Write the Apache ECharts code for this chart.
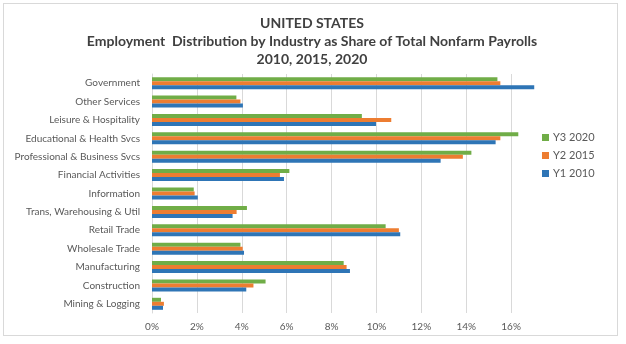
<!DOCTYPE html>
<html>
<head>
<meta charset="utf-8">
<script src="https://cdn.jsdelivr.net/npm/echarts@6/dist/echarts.min.js"></script>
<style>
  html, body { margin: 0; padding: 0; background: #ffffff; }
  #frame { position: absolute; left: 3px; top: 3px; width: 615px; height: 333px; border: 1.5px solid #d9d9d9; box-sizing: border-box; }
  #chart { position: absolute; left: 0; top: 0; width: 626px; height: 344px; }
</style>
</head>
<body>
<div id="frame"></div>
<div id="chart"></div>
<script>
// Categories, top to bottom as in the reference
const categories = [
  'Government',
  'Other Services',
  'Leisure & Hospitality',
  'Educational & Health Svcs',
  'Professional & Business Svcs',
  'Financial Activities',
  'Information',
  'Trans, Warehousing & Util',
  'Retail Trade',
  'Wholesale Trade',
  'Manufacturing',
  'Construction',
  'Mining & Logging'
];
// Share of total nonfarm payrolls (%)
const y3_2020 = [15.39, 3.76, 9.35, 16.32, 14.23, 6.12, 1.86, 4.23, 10.41, 3.94, 8.54, 5.06, 0.40];
const y2_2015 = [15.52, 3.94, 10.66, 15.52, 13.85, 5.70, 1.90, 3.77, 11.00, 4.04, 8.67, 4.52, 0.53];
const y1_2010 = [17.03, 4.05, 9.98, 15.31, 12.86, 5.88, 2.04, 3.59, 11.06, 4.10, 8.82, 4.20, 0.49];
const seriesNames = ['Y3 2020', 'Y2 2015', 'Y1 2010'];
const xTicks = [0, 2, 4, 6, 8, 10, 12, 14, 16];

const colors = ['#70ad47', '#ed7d31', '#2e75b6'];
const font = 'Lato, "Open Sans", sans-serif';
const chart = echarts.init(document.getElementById('chart'), null, { renderer: 'canvas' });

const data = [y3_2020, y2_2015, y1_2010];
const gridColors = xTicks.map(() => '#d9d9d9').concat(['rgba(0,0,0,0)']);

chart.setOption({
  animation: false,
  color: colors,
  title: {
    text: 'UNITED STATES\nEmployment  Distribution by Industry as Share of Total Nonfarm Payrolls\n2010, 2015, 2020',
    left: 307,
    textAlign: 'center',
    top: 9,
    textStyle: { fontFamily: font, fontSize: 14, fontWeight: 'bold', color: '#404040', lineHeight: 18 }
  },
  legend: {
    orient: 'vertical',
    left: 537,
    top: 127,
    itemWidth: 7,
    itemHeight: 7,
    itemGap: 7,
    icon: 'rect',
    data: seriesNames,
    textStyle: { fontFamily: font, fontSize: 11, color: '#595959', padding: [0, 0, 0, -1] }
  },
  grid: { left: 152, right: 70, top: 74, bottom: 31, containLabel: false },
  xAxis: {
    type: 'value',
    min: 0,
    max: 18,
    interval: 2,
    axisLine: { show: false },
    axisTick: { show: false },
    axisLabel: {
      fontFamily: font, fontSize: 10, color: '#595959', margin: 9,
      formatter: v => (xTicks.indexOf(v) >= 0 ? v + '%' : '')
    },
    splitLine: { show: true, lineStyle: { color: gridColors, width: 1 } }
  },
  yAxis: {
    type: 'category',
    inverse: true,
    data: categories,
    axisLine: { show: true, lineStyle: { color: '#d9d9d9' } },
    axisTick: { show: false },
    axisLabel: { fontFamily: font, fontSize: 10, color: '#595959', margin: 12 }
  },
  series: seriesNames.map((n, i) => ({
    name: n,
    type: 'bar',
    data: data[i],
    barWidth: 4,
    barGap: '0%',
    itemStyle: { color: colors[i] }
  }))
});
</script>
</body>
</html>
